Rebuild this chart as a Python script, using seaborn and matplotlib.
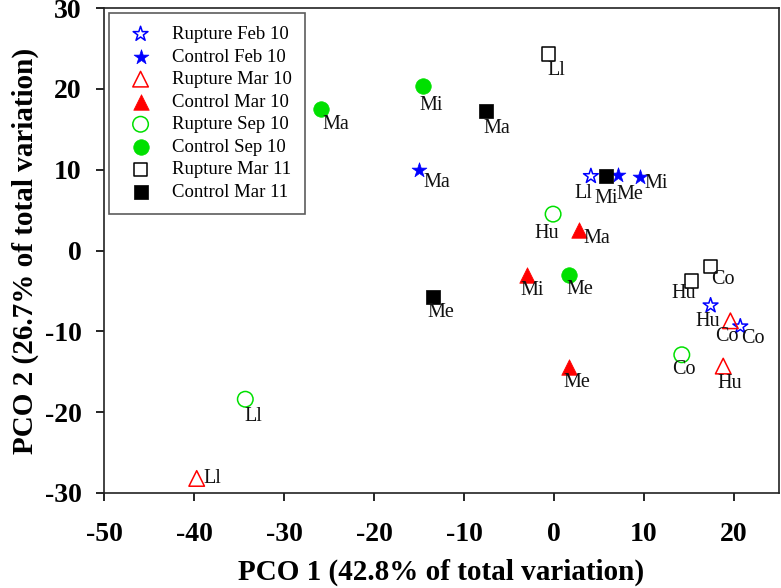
import pandas as pd
import matplotlib
matplotlib.use('Agg')
import matplotlib.pyplot as plt
import seaborn as sns

# PCO scores
groups = ['Rupture Feb 10', 'Control Feb 10', 'Rupture Mar 10', 'Control Mar 10',
          'Rupture Sep 10', 'Control Sep 10', 'Rupture Mar 11', 'Control Mar 11']

group = ['Rupture Feb 10'] * 3 + ['Control Feb 10'] * 3 + ['Rupture Mar 10'] * 3 + \
        ['Control Mar 10'] * 3 + ['Rupture Sep 10'] * 3 + ['Control Sep 10'] * 3 + \
        ['Rupture Mar 11'] * 3 + ['Control Mar 11'] * 3
site = ['Ll', 'Hu', 'Co',  'Ma', 'Me', 'Mi',
        'Ll', 'Co', 'Hu',  'Ma', 'Mi', 'Me',
        'Hu', 'Co', 'Ll',  'Ma', 'Mi', 'Me',
        'Ll', 'Hu', 'Co',  'Ma', 'Mi', 'Me']
pco1 = [4.1, 17.4, 20.7,  -15.0, 7.1, 9.6,
        -39.7, 19.6, 18.8,  2.8, -3.0, 1.7,
        -0.1, 14.2, -34.3,  -25.9, -14.6, 1.7,
        -0.6, 15.3, 17.4,  -7.6, 5.8, -13.4]
pco2 = [9.2, -6.8, -9.4,  9.9, 9.3, 9.1,
        -28.2, -8.7, -14.3,  2.5, -3.0, -14.4,
        4.5, -12.9, -18.4,  17.5, 20.3, -3.0,
        24.3, -3.8, -2.0,  17.2, 9.2, -5.8]

# styling per group: (marker, colour, filled, size)
STYLE = {'Rupture Feb 10': ('*', '#0000ff', False, 125),
         'Control Feb 10': ('*', '#0000ff', True, 125),
         'Rupture Mar 10': ('^', '#ff0000', False, 125),
         'Control Mar 10': ('^', '#ff0000', True, 125),
         'Rupture Sep 10': ('o', '#00e000', False, 125),
         'Control Sep 10': ('o', '#00e000', True, 125),
         'Rupture Mar 11': ('s', '#000000', False, 95),
         'Control Mar 11': ('s', '#000000', True, 95)}

# label offsets from marker centre, in pixels (right, down)
label_offsets = [(-8, 17), (-3, 16), (13, 12),  (18, 12), (12, 19), (16, 7),
                 (16, 0), (-4, 16), (7, 17),  (18, 8), (5, 16), (8, 16),
                 (-6, 19), (2, 15), (8, 17),  (15, 15), (9, 19), (11, 15),
                 (8, 16), (-8, 12), (12, 13),  (11, 17), (0, 22), (7, 15)]

df = pd.DataFrame({'group': group, 'site': site, 'pco1': pco1, 'pco2': pco2})

sns.set_style('ticks')
plt.rcParams['font.family'] = ['Liberation Serif', 'DejaVu Serif']
plt.rcParams['axes.unicode_minus'] = False
plt.rcParams['text.color'] = 'black'
plt.rcParams['xtick.color'] = 'black'
plt.rcParams['ytick.color'] = 'black'
plt.rcParams['axes.labelcolor'] = 'black'

fig = plt.figure(figsize=(7.81, 5.88), dpi=100)
ax = fig.add_axes([104 / 781, 95 / 588, 675 / 781, 485 / 588])

for g in groups:
    marker, col, filled, size = STYLE[g]
    sub = df[df['group'] == g]
    if filled:
        sns.scatterplot(data=sub, x='pco1', y='pco2', ax=ax, marker=marker, s=size,
                        color=col, edgecolor=col, linewidth=0.5, label=g, zorder=3)
    else:
        sns.scatterplot(data=sub, x='pco1', y='pco2', ax=ax, marker=marker, s=size,
                        color=col, facecolor='none', edgecolor=col, linewidth=1.1,
                        label=g, zorder=3)

# site labels next to each point
for (x, y, lab), (dx, dy) in zip(zip(df['pco1'], df['pco2'], df['site']), label_offsets):
    ax.annotate(lab, (x, y), xytext=(dx * 0.72, -dy * 0.72), textcoords='offset points',
                ha='center', va='center', fontsize=14.5, color='#111111')

ax.set_xlim(-50, 25)
ax.set_ylim(-30, 30)
ax.set_xticks(range(-50, 21, 10))
ax.set_yticks(range(-30, 31, 10))
ax.tick_params(axis='x', direction='out', length=6, width=1.2, pad=15, labelsize=20)
ax.tick_params(axis='y', direction='out', length=6, width=1.2, pad=10, labelsize=20)
for lbl in ax.get_xticklabels() + ax.get_yticklabels():
    lbl.set_fontweight('bold')
for sp in ax.spines.values():
    sp.set_visible(True)
    sp.set_linewidth(1.2)
    sp.set_color('#222222')

ax.set_xlabel('PCO 1 (42.8% of total variation)', fontsize=21, fontweight='bold', labelpad=8)
ax.set_ylabel('PCO 2 (26.7% of total variation)', fontsize=21, fontweight='bold', labelpad=4)

leg = ax.legend(loc='upper left', fontsize=13.5, frameon=True, fancybox=False,
                borderaxespad=0.25, handletextpad=0.65, labelspacing=0.29,
                borderpad=0.7, handlelength=2.0)
leg.get_frame().set_edgecolor('#333333')
leg.get_frame().set_linewidth(1.2)

fig.savefig('out.png', dpi=100)
